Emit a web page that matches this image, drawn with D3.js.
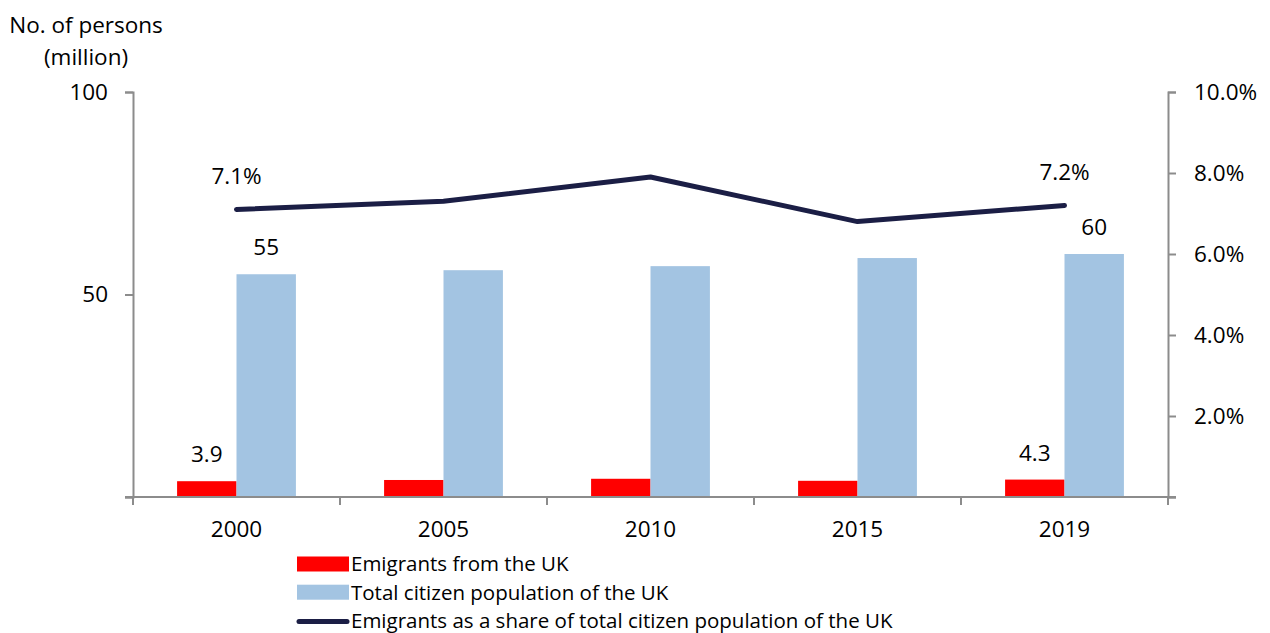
<!DOCTYPE html>
<html>
<head>
<meta charset="utf-8">
<script src="https://cdn.jsdelivr.net/npm/d3@7"></script>
<style>
  html, body { margin: 0; padding: 0; background: #fff; }
  svg text { font-family: "Open Sans", Lato, sans-serif; fill: #000; }
</style>
</head>
<body>
<svg id="chart" width="1270" height="633"></svg>
<script>
// Data
const years = ["2000", "2005", "2010", "2015", "2019"];
const emigrants = [3.9, 4.2, 4.5, 4.0, 4.3];            // million
const population = [55, 56, 57, 59, 60];                 // million
const sharePct = [7.1, 7.3, 7.9, 6.8, 7.2];              // %
const leftTicks = [50, 100];
const rightTicks = [2, 4, 6, 8, 10];
const emigrantLabels = { "2000": "3.9", "2019": "4.3" };
const populationLabels = { "2000": "55", "2019": "60" };
const shareLabels = { "2000": "7.1%", "2019": "7.2%" };
const legendItems = [
  { label: "Emigrants from the UK", type: "rect", color: "#ff0000" },
  { label: "Total citizen population of the UK", type: "rect", color: "#a3c4e2" },
  { label: "Emigrants as a share of total citizen population of the UK", type: "line", color: "#1b1e45" }
];

const svg = d3.select("#chart");
const plotLeft = 133, plotRight = 1168, plotTop = 92, plotBottom = 497;
const axisColor = "#8c8c8c";
const fontSize = "22.5px";

const x = d3.scaleBand().domain(years).range([plotLeft, plotRight]);
const yL = d3.scaleLinear().domain([0, 100]).range([plotBottom, plotTop]);
const yR = d3.scaleLinear().domain([0, 10]).range([plotBottom, plotTop]);
const barW = x.bandwidth() * 0.287;

// Bars
const g = svg.append("g");
g.selectAll("rect.emi").data(years).join("rect")
  .attr("class", "emi")
  .attr("x", (d) => x(d) + x.bandwidth() / 2 - barW)
  .attr("y", (d, i) => yL(emigrants[i]))
  .attr("width", barW)
  .attr("height", (d, i) => plotBottom - yL(emigrants[i]))
  .attr("fill", "#ff0000");
g.selectAll("rect.pop").data(years).join("rect")
  .attr("class", "pop")
  .attr("x", (d) => x(d) + x.bandwidth() / 2)
  .attr("y", (d, i) => yL(population[i]))
  .attr("width", barW)
  .attr("height", (d, i) => plotBottom - yL(population[i]))
  .attr("fill", "#a3c4e2");

// Axes
const axisStyle = (sel) => {
  sel.select(".domain").attr("stroke", axisColor).attr("stroke-width", 2);
  sel.selectAll(".tick line").attr("stroke", axisColor).attr("stroke-width", 2);
  sel.selectAll(".tick text").style("font-size", fontSize).attr("fill", "#000");
};

svg.append("g").attr("transform", `translate(${plotLeft},0)`)
  .call(d3.axisLeft(yL).tickValues([0, ...leftTicks]).tickSizeOuter(0).tickSize(8).tickPadding(17)
    .tickFormat((d) => d === 0 ? "" : d))
  .call(axisStyle);

svg.append("g").attr("transform", `translate(${plotRight},0)`)
  .call(d3.axisRight(yR).tickValues([0, ...rightTicks]).tickSizeOuter(0).tickSize(8).tickPadding(18)
    .tickFormat((d) => d === 0 ? "" : d3.format(".1f")(d) + "%"))
  .call(axisStyle);

const xAxis = svg.append("g").attr("transform", `translate(0,${plotBottom})`)
  .call(d3.axisBottom(x).tickSize(0).tickSizeOuter(0).tickPadding(24))
  .call(axisStyle);
xAxis.select(".domain").attr("d", `M${plotLeft - 8},0H${plotRight + 8}`);
// category boundary ticks
xAxis.selectAll("line.bound").data(years.concat(["end"])).join("line")
  .attr("class", "bound")
  .attr("x1", (d, i) => plotLeft + i * x.step()).attr("x2", (d, i) => plotLeft + i * x.step())
  .attr("y1", 0).attr("y2", 8)
  .attr("stroke", axisColor).attr("stroke-width", 2);

// Share line
const line = d3.line()
  .x((d, i) => x(years[i]) + x.bandwidth() / 2)
  .y((d) => yR(d));
svg.append("path").datum(sharePct)
  .attr("d", line)
  .attr("fill", "none")
  .attr("stroke", "#1b1e45")
  .attr("stroke-width", 5)
  .attr("stroke-linecap", "round")
  .attr("stroke-linejoin", "round");

// Value labels
const lbl = svg.append("g").style("font-size", fontSize).attr("text-anchor", "middle");
years.forEach((yr, i) => {
  const cx = x(yr) + x.bandwidth() / 2;
  if (emigrantLabels[yr]) lbl.append("text").attr("x", cx - barW / 2).attr("y", yL(emigrants[i]) - 19).text(emigrantLabels[yr]);
  if (populationLabels[yr]) lbl.append("text").attr("x", cx + barW / 2).attr("y", yL(population[i]) - 19).text(populationLabels[yr]);
  if (shareLabels[yr]) lbl.append("text").attr("x", cx).attr("y", yR(sharePct[i]) - 25).text(shareLabels[yr]);
});

// Axis title
svg.append("text").attr("x", 86).attr("y", 33).attr("text-anchor", "middle").style("font-size", fontSize).text("No. of persons");
svg.append("text").attr("x", 86).attr("y", 65).attr("text-anchor", "middle").style("font-size", fontSize).text("(million)");

// Legend
const legend = svg.append("g").attr("transform", "translate(297,564)").style("font-size", "20.5px");
const rowH = 28.2;
const rows = legend.selectAll("g.row").data(legendItems).join("g")
  .attr("class", "row")
  .attr("transform", (d, i) => `translate(0,${i * rowH})`);
rows.filter((d) => d.type === "rect").append("rect")
  .attr("x", 0).attr("y", -7.5).attr("width", 52).attr("height", 15).attr("fill", (d) => d.color);
rows.filter((d) => d.type === "line").append("line")
  .attr("x1", 2).attr("x2", 50).attr("y1", 1).attr("y2", 1)
  .attr("stroke", (d) => d.color).attr("stroke-width", 5).attr("stroke-linecap", "round");
rows.append("text").attr("x", 54).attr("y", 0).attr("dy", "0.36em").text((d) => d.label);
</script>
</body>
</html>
